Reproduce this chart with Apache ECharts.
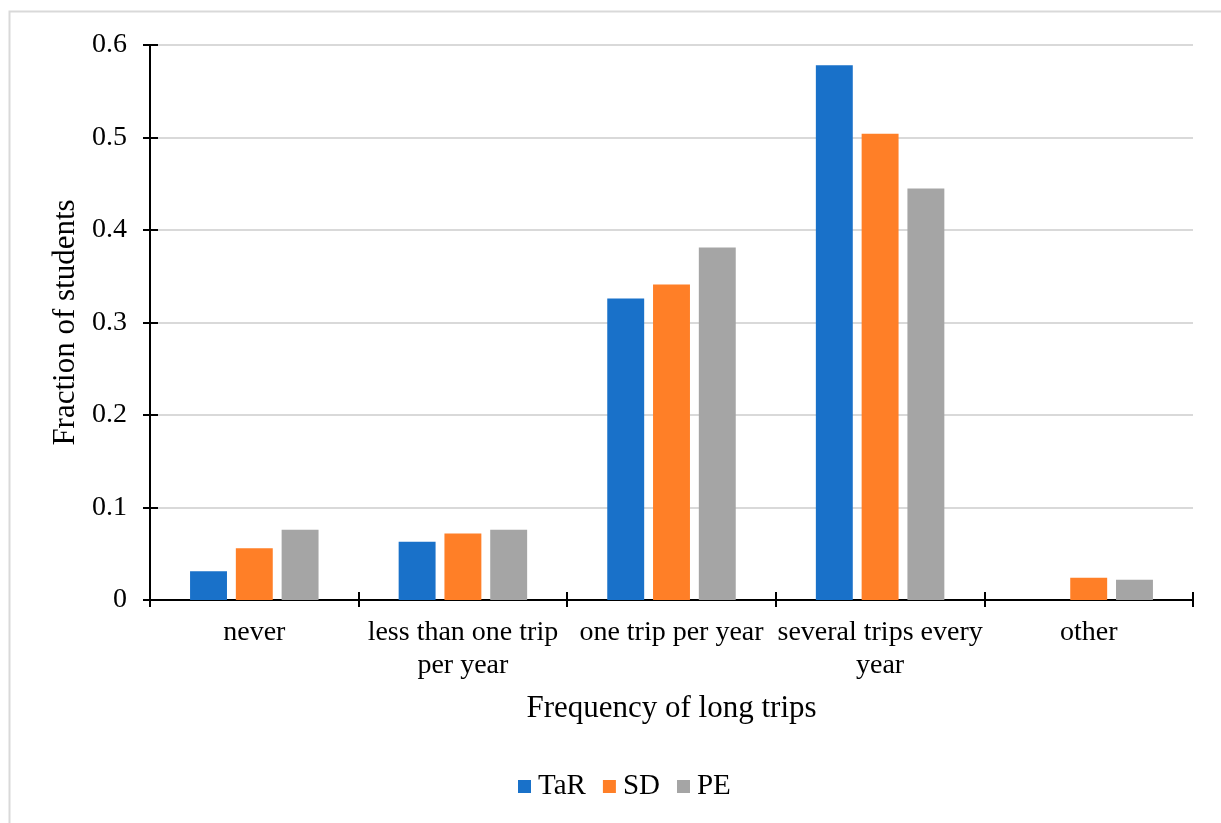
<!DOCTYPE html>
<html>
<head>
<meta charset="utf-8">
<script src="https://cdn.jsdelivr.net/npm/echarts@6/dist/echarts.min.js"></script>
<style>
  html, body { margin: 0; padding: 0; background: #fff; }
  #chart { width: 1221px; height: 823px; }
</style>
</head>
<body>
<div id="chart"></div>
<script>
// Frequency of long trips by student group
const categories = ['never', 'less than one trip\nper year', 'one trip per year', 'several trips every\nyear', 'other'];
const tarValues = [0.031, 0.063, 0.326, 0.578, 0];
const sdValues  = [0.056, 0.072, 0.341, 0.504, 0.024];
const peValues  = [0.076, 0.076, 0.381, 0.445, 0.022];
const seriesNames = ['TaR', 'SD', 'PE'];
const seriesColors = ['#1971C9', '#FF7F27', '#A5A5A5'];

const FONT = '"Liberation Serif", "Times New Roman", serif';
const chart = echarts.init(document.getElementById('chart'));

function barSeries(name, data, color) {
  return {
    name: name,
    type: 'bar',
    data: data,
    barWidth: '17.7%',
    barGap: '24%',
    itemStyle: { color: color },
    emphasis: { disabled: true }
  };
}

chart.setOption({
  animation: false,
  textStyle: { fontFamily: FONT },
  graphic: [{
    type: 'rect',
    silent: true,
    shape: { x: 9.5, y: 11.5, width: 1400, height: 1000 },
    style: { fill: 'none', stroke: '#D9D9D9', lineWidth: 2 }
  }],
  grid: { left: 150, right: 28, top: 45, bottom: 223, containLabel: false },
  legend: {
    top: 767,
    left: 513,
    itemWidth: 13,
    itemHeight: 13,
    itemGap: 17,
    icon: 'rect',
    textStyle: { fontFamily: FONT, fontSize: 29, color: '#000', padding: [0, 0, 0, 2] },
    data: seriesNames
  },
  xAxis: [{
    type: 'category',
    data: categories,
    name: 'Frequency of long trips',
    nameLocation: 'middle',
    nameGap: 93,
    nameTextStyle: { fontFamily: FONT, fontSize: 31, color: '#000' },
    axisLine: { lineStyle: { color: '#000', width: 2 } },
    axisTick: { show: true, length: 7, lineStyle: { color: '#000', width: 2 } },
    axisLabel: { fontFamily: FONT, fontSize: 28, color: '#000', margin: 16, lineHeight: 33, interval: 0 },
    splitLine: { show: false }
  }, {
    type: 'category',
    data: categories,
    position: 'bottom',
    axisLine: { show: false },
    axisTick: { show: true, inside: true, length: 8, lineStyle: { color: '#000', width: 2 } },
    axisLabel: { show: false },
    splitLine: { show: false }
  }],
  yAxis: [{
    type: 'value',
    min: 0,
    max: 0.6,
    interval: 0.1,
    name: 'Fraction of students',
    nameLocation: 'middle',
    nameGap: 66,
    nameRotate: 90,
    nameTextStyle: { fontFamily: FONT, fontSize: 31, color: '#000' },
    axisLine: { show: true, lineStyle: { color: '#000', width: 2 } },
    axisTick: { show: true, length: 7, lineStyle: { color: '#000', width: 2 } },
    axisLabel: { fontFamily: FONT, fontSize: 28, color: '#000', margin: 23 },
    splitLine: { show: true, lineStyle: { color: '#D9D9D9', width: 2 } }
  }, {
    type: 'value',
    min: 0,
    max: 0.6,
    interval: 0.1,
    position: 'left',
    axisLine: { show: false },
    axisTick: { show: true, inside: true, length: 8, lineStyle: { color: '#000', width: 2 } },
    axisLabel: { show: false },
    splitLine: { show: false }
  }],
  series: [
    barSeries(seriesNames[0], tarValues, seriesColors[0]),
    barSeries(seriesNames[1], sdValues, seriesColors[1]),
    barSeries(seriesNames[2], peValues, seriesColors[2])
  ]
});
</script>
</body>
</html>
